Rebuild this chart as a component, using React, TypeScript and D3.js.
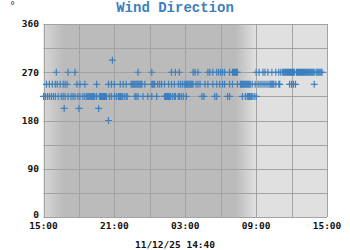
import React from "react";
import * as d3 from "d3";

// minutes after 15:00 for each observed direction
const t180 = [330];
const t2025 = [105, 180, 280];
const t225 = [
  0, 10, 20, 30, 40, 50, 60, 75, 90, 100, 110, 125, 140, 150, 160, 175, 185, 200, 210,
  220, 225, 230, 235, 240, 245, 250, 255, 260, 270, 285, 290, 295, 300, 305, 310, 315, 320,
  335, 345, 360, 370, 380, 385, 390, 395, 400, 410, 420, 425, 465, 470, 480, 505, 530, 550,
  575, 615, 620, 625, 630, 635, 640, 645, 655, 665, 670, 685, 690, 700, 710, 725,
  805, 815, 870, 880, 935, 945, 1010, 1025, 1035, 1040, 1045, 1050, 1055, 1060, 1070, 1080,
];
const t2475 = [
  15, 30, 45, 60, 70, 85, 100, 110, 120, 170, 185, 210, 270, 330, 345, 360, 390, 405, 420,
  445, 450, 455, 460, 465, 470, 475, 480, 485, 490, 495, 500, 515, 550, 555, 560, 565,
  580, 590, 600, 615, 635, 650, 665, 685, 695, 705, 715, 722, 725, 730, 735, 740, 745, 750,
  755, 760, 775, 785, 795, 820, 835, 860, 880, 895, 910, 920, 945, 960, 985,
  1000, 1005, 1010, 1015, 1020, 1025, 1030, 1035, 1040, 1045, 1050, 1060, 1075, 1090, 1100,
  1110, 1120, 1130, 1140, 1150, 1155, 1160, 1165, 1170, 1180, 1195, 1200, 1250, 1260, 1270,
  1280, 1375,
];
const t270 = [
  65, 125, 160, 480, 550, 650, 670, 690, 760, 770, 785, 835, 845, 860, 880, 890, 900, 910,
  920, 945, 960, 965, 970, 975, 980, 985, 1080, 1095, 1115, 1125, 1140, 1160, 1180, 1195,
  1205, 1215, 1220, 1225, 1230, 1235, 1240, 1245, 1250, 1255, 1260, 1265, 1270, 1275,
  1285, 1290, 1295, 1300, 1305, 1310, 1315, 1320, 1325, 1330, 1335, 1340, 1345, 1350,
  1355, 1360, 1365, 1370, 1375, 1385, 1390, 1395, 1400, 1405, 1410, 1415,
];
const t2925 = [350];

const seriesDirs = [180, 202.5, 225, 247.5, 270, 292.5];
const seriesTimes = [t180, t2025, t225, t2475, t270, t2925];

const yTicks = [0, 90, 180, 270, 360];
const yGrid = [0, 45, 90, 135, 180, 225, 270, 315, 360];
const xGrid = [0, 180, 360, 540, 720, 900, 1080, 1260, 1440];
const xTicks = [0, 360, 720, 1080, 1440];
const xTickLabels = ["15:00", "21:00", "03:00", "09:00", "15:00"];
// dusk fade (night begins), dawn fade (day begins), in minutes after 15:00
const duskStart = 0;
const duskEnd = 100;
const dawnStart = 975;
const dawnEnd = 1080;

const title = "Wind Direction";
const footer = "11/12/25 14:40";
const unitLabel = "°";

export default function App() {
  const W = 350, H = 250;
  const left = 43.5, right = 327, top = 24, bottom = 217;
  const x = d3.scaleLinear().domain([0, 1440]).range([left, right]);
  const y = d3.scaleLinear().domain([0, 360]).range([bottom, top]);
  const pw = right - left;
  const off = (m: number) => (x(m) - left) / pw;
  const day = "#e0e0e0";
  const night = "#bbbbbb";
  const blue = "#3d7fbf";
  const grid = "#a3a3a3";
  const font = "'DejaVu Sans Mono', monospace";
  const plus = "M-3.5,0H3.5M0,-3.5V3.5";
  const pts: { t: number; d: number }[] = [];
  seriesTimes.forEach((ts, i) => ts.forEach((t) => pts.push({ t, d: seriesDirs[i] })));

  return (
    <svg width={W} height={H} style={{ position: "absolute", left: 0, top: 0 }}>
      <rect width={W} height={H} fill="#ffffff" />
      <defs>
        <linearGradient id="bg" x1="0" x2="1" y1="0" y2="0">
          <stop offset={off(duskStart)} stopColor="#d6d6d6" />
          <stop offset={off(duskEnd)} stopColor={night} />
          <stop offset={off(dawnStart)} stopColor={night} />
          <stop offset={off(dawnEnd)} stopColor={day} />
          <stop offset={1} stopColor={day} />
        </linearGradient>
      </defs>
      <rect x={left} y={top} width={pw} height={bottom - top} fill="url(#bg)" />
      {yGrid.map((v) => (
        <line key={"gy" + v} x1={left} x2={right} y1={Math.round(y(v)) + 0.5} y2={Math.round(y(v)) + 0.5} stroke={grid} strokeWidth={1} />
      ))}
      {xGrid.map((v) => (
        <line key={"gx" + v} y1={top} y2={bottom} x1={Math.round(x(v)) + 0.5} x2={Math.round(x(v)) + 0.5} stroke={grid} strokeWidth={1} />
      ))}
      <g stroke={blue} strokeWidth={1.2} fill="none">
        {pts.map((p, i) => (
          <path key={i} d={plus} transform={`translate(${x(p.t)},${y(p.d)})`} />
        ))}
      </g>
      <text x={175} y={12} textAnchor="middle" fill={blue} fontFamily="'Liberation Mono', monospace" fontWeight="bold" fontSize={14}>
        {title}
      </text>
      <text x={12.5} y={9} textAnchor="middle" fill="#333" fontFamily={font} fontSize={10}>
        {unitLabel}
      </text>
      {yTicks.map((v) => (
        <text key={"yt" + v} x={39} y={y(v)} dy={v === 0 ? "0.15em" : "0.35em"} textAnchor="end" fontFamily={font} fontWeight="bold" fontSize={9.5} fill="#111">
          {v}
        </text>
      ))}
      {xTicks.map((v, i) => (
        <text key={"xt" + i} x={x(v)} y={229} textAnchor="middle" fontFamily={font} fontWeight="bold" fontSize={9.5} fill="#111">
          {xTickLabels[i]}
        </text>
      ))}
      <text x={175} y={248} textAnchor="middle" fontFamily={font} fontWeight="bold" fontSize={9.5} fill="#111">
        {footer}
      </text>
    </svg>
  );
}
